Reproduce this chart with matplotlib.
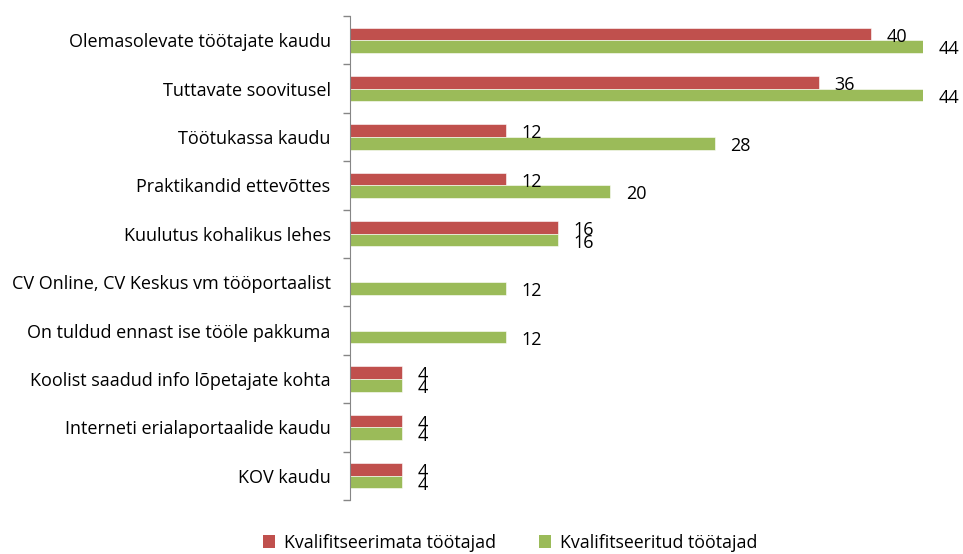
import matplotlib
matplotlib.use("Agg")
import matplotlib.pyplot as plt
import numpy as np
from matplotlib.patches import Patch

plt.rcParams['font.family'] = ['Open Sans', 'DejaVu Sans']

categories = [
    "Olemasolevate töötajate kaudu",
    "Tuttavate soovitusel",
    "Töötukassa kaudu",
    "Praktikandid ettevõttes",
    "Kuulutus kohalikus lehes",
    "CV Online, CV Keskus vm tööportaalist",
    "On tuldud ennast ise tööle pakkuma",
    "Koolist saadud info lõpetajate kohta",
    "Interneti erialaportaalide kaudu",
    "KOV kaudu",
]
unqualified = [40, 36, 12, 12, 16, 0, 0, 4, 4, 4]
qualified = [44, 44, 28, 20, 16, 12, 12, 4, 4, 4]
series_names = ["Kvalifitseerimata töötajad", "Kvalifitseeritud töötajad"]

red = "#C0504D"
green = "#9BBB59"
axis_grey = "#868686"

fig = plt.figure(figsize=(9.63, 5.54), dpi=100)
ax = fig.add_axes([350 / 963, 1 - 500 / 554, (923 - 350) / 963, 484 / 554])

y = np.arange(len(categories))
h = 0.26
ax.barh(y - h / 2, unqualified, height=h, color=red, edgecolor="white", linewidth=0.4)
ax.barh(y + h / 2, qualified, height=h, color=green, edgecolor="white", linewidth=0.4)

# value labels just right of each bar end
for i in range(len(categories)):
    if unqualified[i] > 0:
        ax.annotate(str(unqualified[i]), (unqualified[i], y[i] - h / 2),
                    xytext=(11, -2), textcoords="offset points",
                    ha="left", va="center", fontsize=13)
    if qualified[i] > 0:
        ax.annotate(str(qualified[i]), (qualified[i], y[i] + h / 2),
                    xytext=(11, -2), textcoords="offset points",
                    ha="left", va="center", fontsize=13)

ax.set_xlim(0, 44)
ax.set_ylim(len(categories) - 0.5, -0.5)

ax.set_yticks(y)
ax.set_yticklabels(categories, fontsize=13)
ax.tick_params(axis="y", which="major", length=0, pad=14)
ax.set_yticks(np.arange(-0.5, len(categories), 1), minor=True)
ax.tick_params(axis="y", which="minor", length=5, color=axis_grey, width=1)
ax.set_xticks([])

for s in ["top", "right", "bottom"]:
    ax.spines[s].set_visible(False)
ax.spines["left"].set_color(axis_grey)

handles = [Patch(facecolor=red), Patch(facecolor=green)]
fig.legend(handles, series_names, loc="center", bbox_to_anchor=(0.53, 0.02),
           ncol=2, frameon=False, fontsize=12.8, handlelength=0.7,
           handleheight=0.7, handletextpad=0.5, columnspacing=2.4)

fig.savefig("out.png", dpi=100)
